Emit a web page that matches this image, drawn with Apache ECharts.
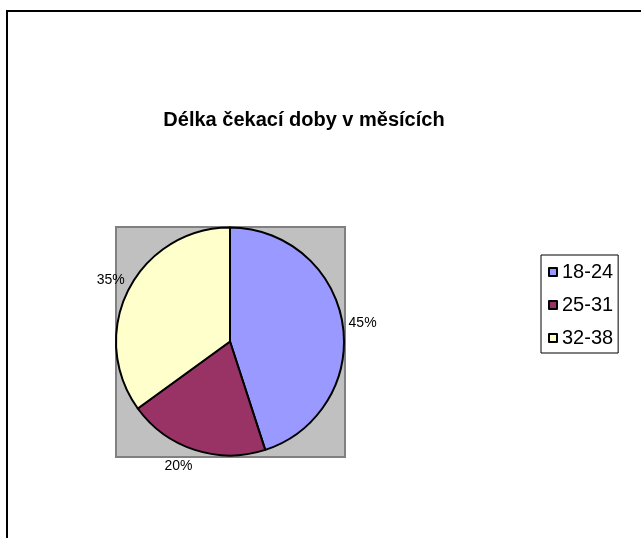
<!DOCTYPE html>
<html>
<head>
<meta charset="utf-8">
<script src="https://cdn.jsdelivr.net/npm/echarts@6/dist/echarts.min.js"></script>
<style>
html,body{margin:0;padding:0;background:#fff;}
#main{width:641px;height:538px;}
</style>
</head>
<body>
<div id="main"></div>
<script>
var titleText = 'Délka čekací doby v měsících';
var categories = ['18-24', '25-31', '32-38'];
var values = [45, 20, 35];
var colors = ['#9999FF', '#993366', '#FFFFCC'];
var labelLines = [
  { length: 1, length2: 0 },
  { length: 17, length2: -8 },
  { length: 21, length2: -20 }
];

var chart = echarts.init(document.getElementById('main'), null, { renderer: 'canvas' });
var data = categories.map(function (c, i) {
  return {
    name: c,
    value: values[i],
    itemStyle: { color: colors[i] },
    labelLine: { show: false, length: labelLines[i].length, length2: labelLines[i].length2 }
  };
});

chart.setOption({
  animation: false,
  backgroundColor: '#ffffff',
  title: {
    text: titleText,
    left: 304,
    top: 110,
    padding: 0,
    textAlign: 'center',
    textStyle: { fontFamily: 'Liberation Sans', fontSize: 20, fontWeight: 'bold', color: '#000' }
  },
  graphic: [
    { type: 'rect', z: 0, shape: { x: 7, y: 11, width: 720, height: 620 },
      style: { fill: 'none', stroke: '#000', lineWidth: 2 } },
    { type: 'rect', z: 0, shape: { x: 116, y: 227, width: 229, height: 230 },
      style: { fill: '#C0C0C0', stroke: '#808080', lineWidth: 2 } }
  ],
  legend: {
    orient: 'vertical',
    left: 541,
    top: 255,
    padding: [7, 5, 5, 7],
    itemGap: 13,
    itemWidth: 8,
    itemHeight: 8,
    itemTextGap: 6,
    icon: 'rect',
    borderColor: '#000',
    borderWidth: 1,
    backgroundColor: '#fff',
    itemStyle: { borderColor: '#000', borderWidth: 2 },
    textStyle: { fontFamily: 'Liberation Sans', fontSize: 20, color: '#000' },
    data: categories
  },
  series: [{
    type: 'pie',
    center: [230, 341.5],
    radius: 114,
    startAngle: 90,
    clockwise: true,
    avoidLabelOverlap: false,
    itemStyle: { borderColor: '#000', borderWidth: 2 },
    label: {
      show: true,
      position: 'outside',
      formatter: '{d}%',
      distanceToLabelLine: 5,
      fontFamily: 'Liberation Sans',
      fontSize: 14,
      color: '#000'
    },
    emphasis: { disabled: true },
    data: data
  }]
});
</script>
</body>
</html>
